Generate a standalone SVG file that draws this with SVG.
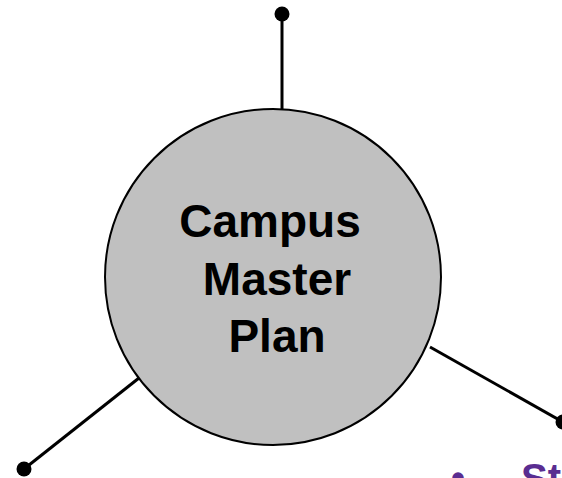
<svg xmlns="http://www.w3.org/2000/svg" width="562" height="478" viewBox="0 0 562 478">
<style>
.conn{stroke:#000;stroke-width:3;fill:none}
.dot{fill:#000}
.lbl{font-family:"Liberation Sans",Arial,sans-serif;font-weight:bold;font-size:46px;fill:#000;text-anchor:middle}
.purple{font-family:"Liberation Sans",Arial,sans-serif;font-weight:bold;font-size:40px;fill:#5a2d91}
</style>
<rect width="562" height="478" fill="#fff"/>
<g id="connectors">
<line class="conn" x1="282" y1="14" x2="282" y2="110"/>
<line class="conn" x1="24" y1="469" x2="139" y2="378"/>
<line class="conn" x1="430" y1="347" x2="563" y2="422"/>
<circle class="dot" cx="282" cy="14" r="7.5"/>
<circle class="dot" cx="24" cy="469" r="7.5"/>
<circle class="dot" cx="563" cy="422" r="7.5"/>
</g>
<g id="node-campus-master-plan">
<circle cx="273" cy="277" r="168" fill="#c0c0c0" stroke="#000" stroke-width="2"/>
<text class="lbl" x="270" y="237">Campus</text>
<text class="lbl" x="277" y="295">Master</text>
<text class="lbl" x="277" y="352">Plan</text>
</g>
<g id="bullet-text">
<text class="purple" x="451" y="492">•</text>
<text class="purple" x="521" y="492">St</text>
</g>
</svg>
